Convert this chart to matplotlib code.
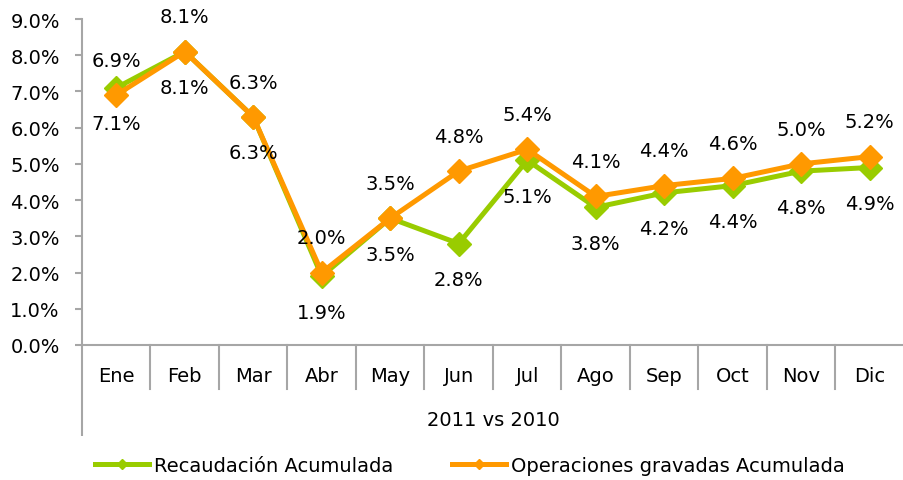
import matplotlib.pyplot as plt
import matplotlib.transforms as mtransforms
from matplotlib.lines import Line2D

# monthly cumulative growth, 2011 vs 2010 (%)
meses = ["Ene", "Feb", "Mar", "Abr", "May", "Jun", "Jul", "Ago", "Sep", "Oct", "Nov", "Dic"]
recaudacion = [7.1, 8.1, 6.3, 1.9, 3.5, 2.8, 5.1, 3.8, 4.2, 4.4, 4.8, 4.9]
operaciones = [6.9, 8.1, 6.3, 2.0, 3.5, 4.8, 5.4, 4.1, 4.4, 4.6, 5.0, 5.2]
y_ticks = [0, 1, 2, 3, 4, 5, 6, 7, 8, 9]

GREEN = "#99CC00"
ORANGE = "#FF9900"
AXIS_GREY = "#A6A6A6"
FS = 14

plt.rcParams["font.family"] = "DejaVu Sans"

fig = plt.figure(figsize=(9.04, 4.81), dpi=100)
ax = fig.add_axes([0.0907, 0.2807, 0.9093, 0.6777])

x = list(range(len(meses)))
ax.plot(x, recaudacion, color=GREEN, lw=3.6, marker="D", ms=12, zorder=3,
        solid_joinstyle="miter")
ax.plot(x, operaciones, color=ORANGE, lw=3.6, marker="D", ms=12, zorder=4,
        solid_joinstyle="miter")

# value labels: orange above, green below
for i, v in enumerate(operaciones):
    ax.annotate("{:.1f}%".format(v), (i, v), xytext=(0, 25), textcoords="offset points",
                ha="center", va="center", fontsize=FS, zorder=5)
for i, v in enumerate(recaudacion):
    ax.annotate("{:.1f}%".format(v), (i, v), xytext=(0, -26), textcoords="offset points",
                ha="center", va="center", fontsize=FS, zorder=5)

ax.set_xlim(-0.5, len(meses) - 0.5)
ax.set_ylim(0, 9)
ax.set_yticks(y_ticks)
ax.set_yticklabels(["{:.1f}%".format(t) for t in y_ticks], fontsize=FS)
ax.tick_params(axis="y", length=5, width=1.5, color=AXIS_GREY, pad=11)
ax.set_xticks(x)
ax.set_xticklabels(meses, fontsize=FS)
ax.tick_params(axis="x", length=0, pad=15)

for side in ["top", "right"]:
    ax.spines[side].set_visible(False)
for side in ["left", "bottom"]:
    ax.spines[side].set_color(AXIS_GREY)
    ax.spines[side].set_linewidth(1.5)

# category separators and extended y axis below the plot
trans = mtransforms.blended_transform_factory(ax.transData, ax.transAxes)
for i in range(len(meses) - 1):
    ax.plot([i + 0.5, i + 0.5], [0, -0.135], transform=trans, color=AXIS_GREY,
            lw=1.5, clip_on=False)
ax.plot([-0.5, -0.5], [0, -0.28], transform=trans, color=AXIS_GREY, lw=1.5,
        clip_on=False, solid_capstyle="butt")

ax.text(0.5, -0.23, "2011 vs 2010", transform=ax.transAxes, ha="center",
        va="center", fontsize=FS)

handles = [
    Line2D([], [], color=GREEN, lw=3.6, marker="D", ms=5),
    Line2D([], [], color=ORANGE, lw=3.6, marker="D", ms=5),
]
fig.legend(handles, ["Recaudación Acumulada", "Operaciones gravadas Acumulada"],
           loc="center", bbox_to_anchor=(0.52, 0.031), ncol=2, frameon=False,
           fontsize=FS, handlelength=2.8, handletextpad=0.26, columnspacing=3.0)

fig.savefig("out.png", dpi=100)
